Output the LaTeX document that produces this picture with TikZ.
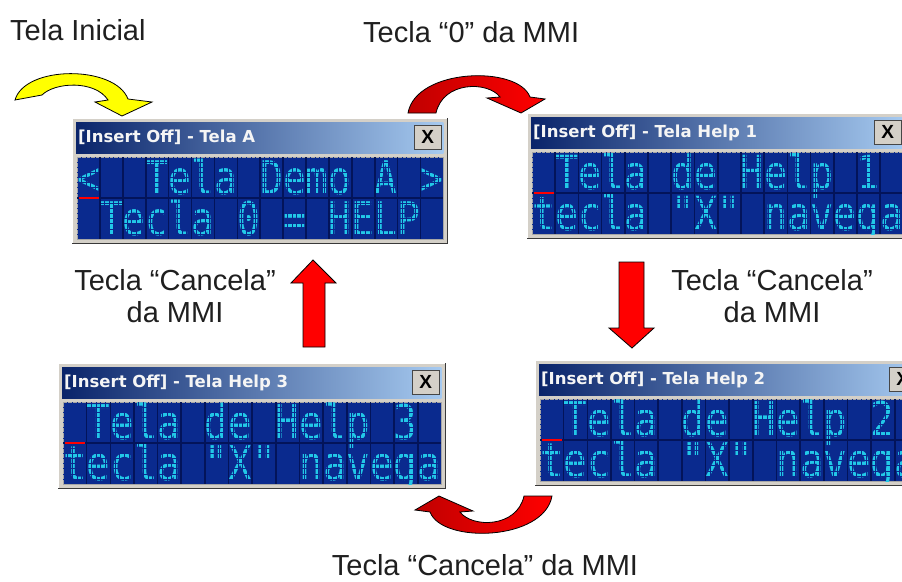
\documentclass[tikz,border=0pt]{standalone}
\usepackage{fontspec}
\setmainfont{Liberation Sans}
\newfontfamily\lcdfont{DejaVu Sans Mono}
\newfontfamily\barfont{DejaVu Sans}
\usetikzlibrary{calc}
\definecolor{lcdbg}{HTML}{0A2A8E}
\definecolor{lcdgap}{HTML}{03145A}
\definecolor{lcdon}{HTML}{22C8E8}
\definecolor{tbdark}{HTML}{0A246A}
\definecolor{tblight}{HTML}{A6CAF0}
\definecolor{wingray}{HTML}{D4D0C8}
\definecolor{arrowred}{HTML}{FF0000}
\definecolor{arrowdark}{HTML}{C00000}
\definecolor{arrowyel}{HTML}{FFFF00}
\tikzset{
  winframe/.style={
    rectangle, fill=wingray, minimum height=125,
    inner sep=0pt, anchor=north west
  },
  lcdpanel/.style={
    rectangle, fill=lcdbg, draw=gray!70, minimum height=82,
    inner sep=0pt, anchor=north west
  },
  titletext/.style={
    font=\barfont\bfseries\fontsize{16.5}{16.5}\selectfont,
    text=white!92!gray, inner sep=0pt, anchor=west
  },
  closebtn/.style={
    rectangle, fill=wingray, draw=gray!55!black,
    minimum width=27, minimum height=24, inner sep=0pt,
    font=\bfseries\fontsize{19}{19}\selectfont, anchor=north east
  },
  lcdtext/.style={
    font=\lcdfont, text=lcdon, inner sep=0pt, anchor=base west
  },
  lcddot/.style={draw=lcdbg, line width=1pt},
  lcdgap/.style={draw=lcdgap, line width=1.6pt},
  cursor/.style={draw=red, line width=2pt},
  lbl/.style={
    font=\fontsize{29}{32}\selectfont, text=black!88, inner sep=0pt
  },
  redarrow/.style={
    draw=black, line width=0.8pt, left color=arrowdark, right color=arrowred
  },
  blockarrow/.style={draw=black, line width=0.8pt, fill=arrowred},
  bendarrow/.pic={
    \draw[redarrow] (0,0) .. controls (8,-45) and (110,-48) .. (122,-16)
      -- (137,-14) -- (113,0) -- (79,-15) -- (92,-16)
      .. controls (80,-32) and (35,-32) .. (28,0) -- cycle;
  },
}
% window: name, top left corner, width, title, first line, second line
\newcommand{\telawin}[6]{%
  \node[winframe, minimum width=#3] (#1) at (#2) {};
  \draw[white] (#1.south west) -- (#1.north west) -- (#1.north east);
  \draw[gray!45!black, line width=1.2pt] (#1.north east) -- (#1.south east) -- (#1.south west);
  \fill[left color=tbdark, right color=tblight]
    ($(#1.north west)+(4,4)$) rectangle ($(#1.north east)+(-4,35)$);
  \node[titletext] (#1-title) at ($(#1.north west)+(6,19.5)$) {#4};
  \node[closebtn] (#1-close) at ($(#1.north east)+(-6,7)$) {X};
  \node[lcdpanel, minimum width=#3-9] (#1-lcd) at ($(#1.north west)+(5,39)$) {};
  \pgfmathsetmacro\lcdsize{(#3-9)/16/0.602}
  \begin{scope}
    \clip (#1-lcd.north west) rectangle (#1-lcd.south east);
    \node[lcdtext] (#1-top) at ($(#1-lcd.north west)+(0,37)$)
      {\fontsize{\lcdsize}{\lcdsize}\selectfont\scalebox{1}[1.22]{#5}};
    \node[lcdtext] (#1-bot) at ($(#1-lcd.north west)+(0,78)$)
      {\fontsize{\lcdsize}{\lcdsize}\selectfont\scalebox{1}[1.22]{#6}};
    \foreach \k in {1,...,79}
      \draw[lcddot] ($(#1-lcd.north west)!\k/80!(#1-lcd.north east)$)
        -- ($(#1-lcd.south west)!\k/80!(#1-lcd.south east)$);
    \foreach \k in {1,...,15}
      \draw[lcddot] ($(#1-lcd.north west)!\k/16!(#1-lcd.south west)$)
        -- ($(#1-lcd.north east)!\k/16!(#1-lcd.south east)$);
  \end{scope}
  \foreach \k in {1,...,15}
    \draw[lcdgap] ($(#1-lcd.north west)!\k/16!(#1-lcd.north east)$)
      -- ($(#1-lcd.south west)!\k/16!(#1-lcd.south east)$);
  \draw[lcdgap] (#1-lcd.west) -- (#1-lcd.east);
  \draw[cursor] ($(#1-lcd.west)+(2,0)$) -- ++(20,0);
}

\begin{document}
\begin{tikzpicture}[x=1pt, y=-1pt]
  \useasboundingbox (0,0) rectangle (902,581);
  \clip (0,0) rectangle (902,581);
  \fill[white] (0,0) rectangle (902,581);

  % the four screens
  \telawin{telaA}{72,118}{375}{[Insert Off] - Tela A}
    {<~~Tela~Demo~A~>}{~Tecla~0~=~HELP}
  \telawin{help1}{527,113}{380}{[Insert Off] - Tela Help 1}
    {~Tela~de~Help~1}{tecla~"X"~navega}
  \telawin{help2}{535,360}{387}{[Insert Off] - Tela Help 2}
    {~Tela~de~Help~2}{tecla~"X"~navega}
  \telawin{help3}{58,363}{387}{[Insert Off] - Tela Help 3}
    {~Tela~de~Help~3}{tecla~"X"~navega}

  % labels
  \node[lbl, anchor=base west] (inicial) at (10,40) {Tela Inicial};
  \node[lbl, anchor=base west] (teclazero) at (363,42) {Tecla “0” da MMI};
  \node[lbl, align=center, anchor=base] (cancleft) at (175,322)
    {Tecla “Cancela”\\da MMI};
  \node[lbl, align=center, anchor=base] (cancright) at (772,322)
    {Tecla “Cancela”\\da MMI};
  \node[lbl, anchor=base] (cancbottom) at (485,575) {Tecla “Cancela” da MMI};

  % arrows
  \draw[draw=black, line width=0.8pt, fill=arrowyel]
    (15,100) .. controls (25,65) and (115,65) .. (128,99)
    -- (152,102) -- (122,116) -- (95,102) -- (108,100)
    .. controls (95,80) and (55,82) .. (42,95) -- cycle;
  \pic at (408,113) {bendarrow};
  \pic[rotate=180] at (552,496) {bendarrow};
  \draw[blockarrow] (619,262) -- (619,328) -- (609,328) -- (632,348)
    -- (654,328) -- (644,328) -- (644,262) -- cycle;
  \draw[blockarrow] (303,347) -- (303,283) -- (291,283) -- (313,260)
    -- (336,283) -- (325,283) -- (325,347) -- cycle;
\end{tikzpicture}
\end{document}
